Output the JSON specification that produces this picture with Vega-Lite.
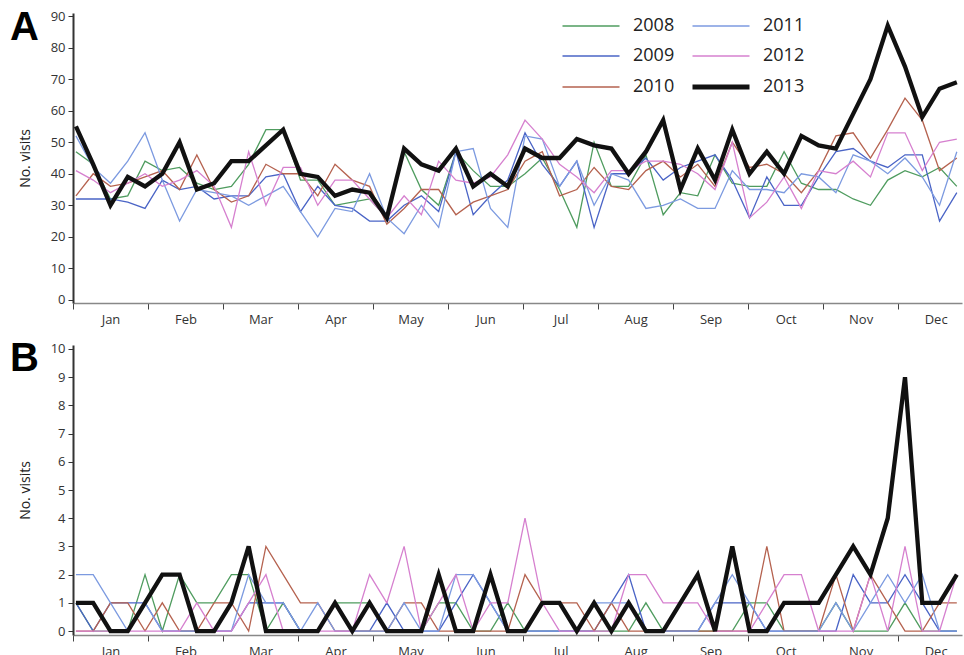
{
"$schema":"https://vega.github.io/schema/vega-lite/v6.json",
"background":"white",
"padding":{"left":10,"top":8,"right":0,"bottom":0},
"config":{"font":"Open Sans","view":{"stroke":null},
 "axis":{"labelFont":"Open Sans","labelFontSize":13,"labelColor":"#333","titleFont":"Open Sans","titleFontSize":14,"titleFontWeight":"normal","titleColor":"#222","grid":false,"tickColor":"#333","domainColor":"#444"},
 "axisX":{"labelOffset":37.5,"labelAlign":"center","labelOverlap":false,"labelFlush":false,"labelBound":false,"tickSize":6,"labelPadding":4,"domainColor":"#888","domainWidth":1.5,"tickColor":"#444","labelFontSize":13},
 "axisY":{"tickSize":5,"labelPadding":3,"titlePadding":18,"domainWidth":2,"domainColor":"#333","labelOverlap":false}},
"spacing":12,
"datasets":{
"a":[
{"yr":"2008","wk":1,"n":47},{"yr":"2008","wk":2,"n":43},{"yr":"2008","wk":3,"n":32},{"yr":"2008","wk":4,"n":33},{"yr":"2008","wk":5,"n":44},{"yr":"2008","wk":6,"n":41},{"yr":"2008","wk":7,"n":42},{"yr":"2008","wk":8,"n":37},{"yr":"2008","wk":9,"n":35},{"yr":"2008","wk":10,"n":36},{"yr":"2008","wk":11,"n":43},{"yr":"2008","wk":12,"n":54},{"yr":"2008","wk":13,"n":54},{"yr":"2008","wk":14,"n":38},{"yr":"2008","wk":15,"n":38},{"yr":"2008","wk":16,"n":30},{"yr":"2008","wk":17,"n":31},{"yr":"2008","wk":18,"n":32},{"yr":"2008","wk":19,"n":26},{"yr":"2008","wk":20,"n":47},{"yr":"2008","wk":21,"n":35},{"yr":"2008","wk":22,"n":30},{"yr":"2008","wk":23,"n":47},{"yr":"2008","wk":24,"n":41},{"yr":"2008","wk":25,"n":36},{"yr":"2008","wk":26,"n":36},{"yr":"2008","wk":27,"n":40},{"yr":"2008","wk":28,"n":45},{"yr":"2008","wk":29,"n":35},{"yr":"2008","wk":30,"n":23},{"yr":"2008","wk":31,"n":50},{"yr":"2008","wk":32,"n":36},{"yr":"2008","wk":33,"n":36},{"yr":"2008","wk":34,"n":46},{"yr":"2008","wk":35,"n":27},{"yr":"2008","wk":36,"n":34},{"yr":"2008","wk":37,"n":33},{"yr":"2008","wk":38,"n":46},{"yr":"2008","wk":39,"n":37},{"yr":"2008","wk":40,"n":36},{"yr":"2008","wk":41,"n":36},{"yr":"2008","wk":42,"n":47},{"yr":"2008","wk":43,"n":37},{"yr":"2008","wk":44,"n":35},{"yr":"2008","wk":45,"n":35},{"yr":"2008","wk":46,"n":32},{"yr":"2008","wk":47,"n":30},{"yr":"2008","wk":48,"n":38},{"yr":"2008","wk":49,"n":41},{"yr":"2008","wk":50,"n":39},{"yr":"2008","wk":51,"n":42},{"yr":"2008","wk":52,"n":36},
{"yr":"2009","wk":1,"n":32},{"yr":"2009","wk":2,"n":32},{"yr":"2009","wk":3,"n":32},{"yr":"2009","wk":4,"n":31},{"yr":"2009","wk":5,"n":29},{"yr":"2009","wk":6,"n":38},{"yr":"2009","wk":7,"n":35},{"yr":"2009","wk":8,"n":36},{"yr":"2009","wk":9,"n":32},{"yr":"2009","wk":10,"n":33},{"yr":"2009","wk":11,"n":33},{"yr":"2009","wk":12,"n":39},{"yr":"2009","wk":13,"n":40},{"yr":"2009","wk":14,"n":28},{"yr":"2009","wk":15,"n":36},{"yr":"2009","wk":16,"n":30},{"yr":"2009","wk":17,"n":29},{"yr":"2009","wk":18,"n":25},{"yr":"2009","wk":19,"n":25},{"yr":"2009","wk":20,"n":30},{"yr":"2009","wk":21,"n":33},{"yr":"2009","wk":22,"n":28},{"yr":"2009","wk":23,"n":47},{"yr":"2009","wk":24,"n":27},{"yr":"2009","wk":25,"n":33},{"yr":"2009","wk":26,"n":38},{"yr":"2009","wk":27,"n":53},{"yr":"2009","wk":28,"n":43},{"yr":"2009","wk":29,"n":36},{"yr":"2009","wk":30,"n":44},{"yr":"2009","wk":31,"n":23},{"yr":"2009","wk":32,"n":40},{"yr":"2009","wk":33,"n":40},{"yr":"2009","wk":34,"n":45},{"yr":"2009","wk":35,"n":38},{"yr":"2009","wk":36,"n":42},{"yr":"2009","wk":37,"n":44},{"yr":"2009","wk":38,"n":46},{"yr":"2009","wk":39,"n":38},{"yr":"2009","wk":40,"n":26},{"yr":"2009","wk":41,"n":39},{"yr":"2009","wk":42,"n":30},{"yr":"2009","wk":43,"n":30},{"yr":"2009","wk":44,"n":39},{"yr":"2009","wk":45,"n":47},{"yr":"2009","wk":46,"n":48},{"yr":"2009","wk":47,"n":44},{"yr":"2009","wk":48,"n":42},{"yr":"2009","wk":49,"n":46},{"yr":"2009","wk":50,"n":46},{"yr":"2009","wk":51,"n":25},{"yr":"2009","wk":52,"n":34},
{"yr":"2010","wk":1,"n":33},{"yr":"2010","wk":2,"n":40},{"yr":"2010","wk":3,"n":36},{"yr":"2010","wk":4,"n":37},{"yr":"2010","wk":5,"n":39},{"yr":"2010","wk":6,"n":41},{"yr":"2010","wk":7,"n":35},{"yr":"2010","wk":8,"n":46},{"yr":"2010","wk":9,"n":35},{"yr":"2010","wk":10,"n":31},{"yr":"2010","wk":11,"n":33},{"yr":"2010","wk":12,"n":43},{"yr":"2010","wk":13,"n":40},{"yr":"2010","wk":14,"n":40},{"yr":"2010","wk":15,"n":33},{"yr":"2010","wk":16,"n":43},{"yr":"2010","wk":17,"n":38},{"yr":"2010","wk":18,"n":36},{"yr":"2010","wk":19,"n":24},{"yr":"2010","wk":20,"n":29},{"yr":"2010","wk":21,"n":35},{"yr":"2010","wk":22,"n":35},{"yr":"2010","wk":23,"n":27},{"yr":"2010","wk":24,"n":31},{"yr":"2010","wk":25,"n":33},{"yr":"2010","wk":26,"n":35},{"yr":"2010","wk":27,"n":44},{"yr":"2010","wk":28,"n":47},{"yr":"2010","wk":29,"n":33},{"yr":"2010","wk":30,"n":35},{"yr":"2010","wk":31,"n":42},{"yr":"2010","wk":32,"n":36},{"yr":"2010","wk":33,"n":35},{"yr":"2010","wk":34,"n":41},{"yr":"2010","wk":35,"n":44},{"yr":"2010","wk":36,"n":39},{"yr":"2010","wk":37,"n":43},{"yr":"2010","wk":38,"n":36},{"yr":"2010","wk":39,"n":50},{"yr":"2010","wk":40,"n":42},{"yr":"2010","wk":41,"n":43},{"yr":"2010","wk":42,"n":40},{"yr":"2010","wk":43,"n":34},{"yr":"2010","wk":44,"n":41},{"yr":"2010","wk":45,"n":52},{"yr":"2010","wk":46,"n":53},{"yr":"2010","wk":47,"n":45},{"yr":"2010","wk":48,"n":54},{"yr":"2010","wk":49,"n":64},{"yr":"2010","wk":50,"n":57},{"yr":"2010","wk":51,"n":41},{"yr":"2010","wk":52,"n":45},
{"yr":"2011","wk":1,"n":52},{"yr":"2011","wk":2,"n":42},{"yr":"2011","wk":3,"n":37},{"yr":"2011","wk":4,"n":44},{"yr":"2011","wk":5,"n":53},{"yr":"2011","wk":6,"n":38},{"yr":"2011","wk":7,"n":25},{"yr":"2011","wk":8,"n":35},{"yr":"2011","wk":9,"n":34},{"yr":"2011","wk":10,"n":33},{"yr":"2011","wk":11,"n":30},{"yr":"2011","wk":12,"n":33},{"yr":"2011","wk":13,"n":36},{"yr":"2011","wk":14,"n":28},{"yr":"2011","wk":15,"n":20},{"yr":"2011","wk":16,"n":29},{"yr":"2011","wk":17,"n":28},{"yr":"2011","wk":18,"n":40},{"yr":"2011","wk":19,"n":26},{"yr":"2011","wk":20,"n":21},{"yr":"2011","wk":21,"n":30},{"yr":"2011","wk":22,"n":23},{"yr":"2011","wk":23,"n":47},{"yr":"2011","wk":24,"n":48},{"yr":"2011","wk":25,"n":29},{"yr":"2011","wk":26,"n":23},{"yr":"2011","wk":27,"n":52},{"yr":"2011","wk":28,"n":51},{"yr":"2011","wk":29,"n":36},{"yr":"2011","wk":30,"n":44},{"yr":"2011","wk":31,"n":30},{"yr":"2011","wk":32,"n":40},{"yr":"2011","wk":33,"n":38},{"yr":"2011","wk":34,"n":29},{"yr":"2011","wk":35,"n":30},{"yr":"2011","wk":36,"n":32},{"yr":"2011","wk":37,"n":29},{"yr":"2011","wk":38,"n":29},{"yr":"2011","wk":39,"n":41},{"yr":"2011","wk":40,"n":35},{"yr":"2011","wk":41,"n":35},{"yr":"2011","wk":42,"n":34},{"yr":"2011","wk":43,"n":40},{"yr":"2011","wk":44,"n":39},{"yr":"2011","wk":45,"n":34},{"yr":"2011","wk":46,"n":46},{"yr":"2011","wk":47,"n":44},{"yr":"2011","wk":48,"n":40},{"yr":"2011","wk":49,"n":45},{"yr":"2011","wk":50,"n":39},{"yr":"2011","wk":51,"n":30},{"yr":"2011","wk":52,"n":47},
{"yr":"2012","wk":1,"n":41},{"yr":"2012","wk":2,"n":38},{"yr":"2012","wk":3,"n":34},{"yr":"2012","wk":4,"n":37},{"yr":"2012","wk":5,"n":40},{"yr":"2012","wk":6,"n":36},{"yr":"2012","wk":7,"n":38},{"yr":"2012","wk":8,"n":41},{"yr":"2012","wk":9,"n":36},{"yr":"2012","wk":10,"n":23},{"yr":"2012","wk":11,"n":47},{"yr":"2012","wk":12,"n":30},{"yr":"2012","wk":13,"n":42},{"yr":"2012","wk":14,"n":42},{"yr":"2012","wk":15,"n":30},{"yr":"2012","wk":16,"n":38},{"yr":"2012","wk":17,"n":38},{"yr":"2012","wk":18,"n":32},{"yr":"2012","wk":19,"n":26},{"yr":"2012","wk":20,"n":33},{"yr":"2012","wk":21,"n":27},{"yr":"2012","wk":22,"n":44},{"yr":"2012","wk":23,"n":38},{"yr":"2012","wk":24,"n":37},{"yr":"2012","wk":25,"n":39},{"yr":"2012","wk":26,"n":46},{"yr":"2012","wk":27,"n":57},{"yr":"2012","wk":28,"n":51},{"yr":"2012","wk":29,"n":43},{"yr":"2012","wk":30,"n":39},{"yr":"2012","wk":31,"n":34},{"yr":"2012","wk":32,"n":41},{"yr":"2012","wk":33,"n":41},{"yr":"2012","wk":34,"n":44},{"yr":"2012","wk":35,"n":44},{"yr":"2012","wk":36,"n":43},{"yr":"2012","wk":37,"n":40},{"yr":"2012","wk":38,"n":35},{"yr":"2012","wk":39,"n":50},{"yr":"2012","wk":40,"n":26},{"yr":"2012","wk":41,"n":31},{"yr":"2012","wk":42,"n":39},{"yr":"2012","wk":43,"n":29},{"yr":"2012","wk":44,"n":41},{"yr":"2012","wk":45,"n":40},{"yr":"2012","wk":46,"n":44},{"yr":"2012","wk":47,"n":39},{"yr":"2012","wk":48,"n":53},{"yr":"2012","wk":49,"n":53},{"yr":"2012","wk":50,"n":41},{"yr":"2012","wk":51,"n":50},{"yr":"2012","wk":52,"n":51},
{"yr":"2013","wk":1,"n":55},{"yr":"2013","wk":2,"n":43},{"yr":"2013","wk":3,"n":30},{"yr":"2013","wk":4,"n":39},{"yr":"2013","wk":5,"n":36},{"yr":"2013","wk":6,"n":40},{"yr":"2013","wk":7,"n":50},{"yr":"2013","wk":8,"n":35},{"yr":"2013","wk":9,"n":37},{"yr":"2013","wk":10,"n":44},{"yr":"2013","wk":11,"n":44},{"yr":"2013","wk":12,"n":49},{"yr":"2013","wk":13,"n":54},{"yr":"2013","wk":14,"n":40},{"yr":"2013","wk":15,"n":39},{"yr":"2013","wk":16,"n":33},{"yr":"2013","wk":17,"n":35},{"yr":"2013","wk":18,"n":34},{"yr":"2013","wk":19,"n":26},{"yr":"2013","wk":20,"n":48},{"yr":"2013","wk":21,"n":43},{"yr":"2013","wk":22,"n":41},{"yr":"2013","wk":23,"n":48},{"yr":"2013","wk":24,"n":36},{"yr":"2013","wk":25,"n":40},{"yr":"2013","wk":26,"n":36},{"yr":"2013","wk":27,"n":48},{"yr":"2013","wk":28,"n":45},{"yr":"2013","wk":29,"n":45},{"yr":"2013","wk":30,"n":51},{"yr":"2013","wk":31,"n":49},{"yr":"2013","wk":32,"n":48},{"yr":"2013","wk":33,"n":40},{"yr":"2013","wk":34,"n":47},{"yr":"2013","wk":35,"n":57},{"yr":"2013","wk":36,"n":35},{"yr":"2013","wk":37,"n":48},{"yr":"2013","wk":38,"n":38},{"yr":"2013","wk":39,"n":54},{"yr":"2013","wk":40,"n":40},{"yr":"2013","wk":41,"n":47},{"yr":"2013","wk":42,"n":40},{"yr":"2013","wk":43,"n":52},{"yr":"2013","wk":44,"n":49},{"yr":"2013","wk":45,"n":48},{"yr":"2013","wk":46,"n":59},{"yr":"2013","wk":47,"n":70},{"yr":"2013","wk":48,"n":87},{"yr":"2013","wk":49,"n":74},{"yr":"2013","wk":50,"n":58},{"yr":"2013","wk":51,"n":67},{"yr":"2013","wk":52,"n":69}
],
"b":[
{"yr":"2008","wk":1,"n":1},{"yr":"2008","wk":2,"n":0},{"yr":"2008","wk":3,"n":0},{"yr":"2008","wk":4,"n":0},{"yr":"2008","wk":5,"n":2},{"yr":"2008","wk":6,"n":0},{"yr":"2008","wk":7,"n":2},{"yr":"2008","wk":8,"n":1},{"yr":"2008","wk":9,"n":1},{"yr":"2008","wk":10,"n":2},{"yr":"2008","wk":11,"n":2},{"yr":"2008","wk":12,"n":0},{"yr":"2008","wk":13,"n":1},{"yr":"2008","wk":14,"n":0},{"yr":"2008","wk":15,"n":0},{"yr":"2008","wk":16,"n":1},{"yr":"2008","wk":17,"n":1},{"yr":"2008","wk":18,"n":1},{"yr":"2008","wk":19,"n":0},{"yr":"2008","wk":20,"n":0},{"yr":"2008","wk":21,"n":0},{"yr":"2008","wk":22,"n":1},{"yr":"2008","wk":23,"n":1},{"yr":"2008","wk":24,"n":0},{"yr":"2008","wk":25,"n":0},{"yr":"2008","wk":26,"n":1},{"yr":"2008","wk":27,"n":0},{"yr":"2008","wk":28,"n":0},{"yr":"2008","wk":29,"n":0},{"yr":"2008","wk":30,"n":0},{"yr":"2008","wk":31,"n":0},{"yr":"2008","wk":32,"n":0},{"yr":"2008","wk":33,"n":0},{"yr":"2008","wk":34,"n":1},{"yr":"2008","wk":35,"n":0},{"yr":"2008","wk":36,"n":0},{"yr":"2008","wk":37,"n":0},{"yr":"2008","wk":38,"n":0},{"yr":"2008","wk":39,"n":0},{"yr":"2008","wk":40,"n":1},{"yr":"2008","wk":41,"n":1},{"yr":"2008","wk":42,"n":0},{"yr":"2008","wk":43,"n":0},{"yr":"2008","wk":44,"n":0},{"yr":"2008","wk":45,"n":1},{"yr":"2008","wk":46,"n":0},{"yr":"2008","wk":47,"n":0},{"yr":"2008","wk":48,"n":0},{"yr":"2008","wk":49,"n":1},{"yr":"2008","wk":50,"n":0},{"yr":"2008","wk":51,"n":0},{"yr":"2008","wk":52,"n":0},
{"yr":"2009","wk":1,"n":1},{"yr":"2009","wk":2,"n":0},{"yr":"2009","wk":3,"n":1},{"yr":"2009","wk":4,"n":1},{"yr":"2009","wk":5,"n":1},{"yr":"2009","wk":6,"n":0},{"yr":"2009","wk":7,"n":0},{"yr":"2009","wk":8,"n":0},{"yr":"2009","wk":9,"n":0},{"yr":"2009","wk":10,"n":0},{"yr":"2009","wk":11,"n":1},{"yr":"2009","wk":12,"n":1},{"yr":"2009","wk":13,"n":1},{"yr":"2009","wk":14,"n":0},{"yr":"2009","wk":15,"n":0},{"yr":"2009","wk":16,"n":1},{"yr":"2009","wk":17,"n":0},{"yr":"2009","wk":18,"n":0},{"yr":"2009","wk":19,"n":1},{"yr":"2009","wk":20,"n":0},{"yr":"2009","wk":21,"n":0},{"yr":"2009","wk":22,"n":0},{"yr":"2009","wk":23,"n":1},{"yr":"2009","wk":24,"n":2},{"yr":"2009","wk":25,"n":1},{"yr":"2009","wk":26,"n":0},{"yr":"2009","wk":27,"n":0},{"yr":"2009","wk":28,"n":0},{"yr":"2009","wk":29,"n":0},{"yr":"2009","wk":30,"n":0},{"yr":"2009","wk":31,"n":0},{"yr":"2009","wk":32,"n":1},{"yr":"2009","wk":33,"n":2},{"yr":"2009","wk":34,"n":0},{"yr":"2009","wk":35,"n":0},{"yr":"2009","wk":36,"n":0},{"yr":"2009","wk":37,"n":0},{"yr":"2009","wk":38,"n":1},{"yr":"2009","wk":39,"n":1},{"yr":"2009","wk":40,"n":1},{"yr":"2009","wk":41,"n":0},{"yr":"2009","wk":42,"n":0},{"yr":"2009","wk":43,"n":0},{"yr":"2009","wk":44,"n":0},{"yr":"2009","wk":45,"n":0},{"yr":"2009","wk":46,"n":2},{"yr":"2009","wk":47,"n":1},{"yr":"2009","wk":48,"n":1},{"yr":"2009","wk":49,"n":2},{"yr":"2009","wk":50,"n":1},{"yr":"2009","wk":51,"n":0},{"yr":"2009","wk":52,"n":0},
{"yr":"2010","wk":1,"n":0},{"yr":"2010","wk":2,"n":0},{"yr":"2010","wk":3,"n":1},{"yr":"2010","wk":4,"n":1},{"yr":"2010","wk":5,"n":0},{"yr":"2010","wk":6,"n":1},{"yr":"2010","wk":7,"n":0},{"yr":"2010","wk":8,"n":0},{"yr":"2010","wk":9,"n":1},{"yr":"2010","wk":10,"n":1},{"yr":"2010","wk":11,"n":0},{"yr":"2010","wk":12,"n":3},{"yr":"2010","wk":13,"n":2},{"yr":"2010","wk":14,"n":1},{"yr":"2010","wk":15,"n":1},{"yr":"2010","wk":16,"n":0},{"yr":"2010","wk":17,"n":0},{"yr":"2010","wk":18,"n":0},{"yr":"2010","wk":19,"n":0},{"yr":"2010","wk":20,"n":1},{"yr":"2010","wk":21,"n":1},{"yr":"2010","wk":22,"n":0},{"yr":"2010","wk":23,"n":0},{"yr":"2010","wk":24,"n":0},{"yr":"2010","wk":25,"n":0},{"yr":"2010","wk":26,"n":0},{"yr":"2010","wk":27,"n":2},{"yr":"2010","wk":28,"n":1},{"yr":"2010","wk":29,"n":1},{"yr":"2010","wk":30,"n":1},{"yr":"2010","wk":31,"n":0},{"yr":"2010","wk":32,"n":1},{"yr":"2010","wk":33,"n":0},{"yr":"2010","wk":34,"n":0},{"yr":"2010","wk":35,"n":0},{"yr":"2010","wk":36,"n":0},{"yr":"2010","wk":37,"n":0},{"yr":"2010","wk":38,"n":0},{"yr":"2010","wk":39,"n":0},{"yr":"2010","wk":40,"n":0},{"yr":"2010","wk":41,"n":3},{"yr":"2010","wk":42,"n":0},{"yr":"2010","wk":43,"n":0},{"yr":"2010","wk":44,"n":0},{"yr":"2010","wk":45,"n":2},{"yr":"2010","wk":46,"n":0},{"yr":"2010","wk":47,"n":2},{"yr":"2010","wk":48,"n":1},{"yr":"2010","wk":49,"n":0},{"yr":"2010","wk":50,"n":0},{"yr":"2010","wk":51,"n":1},{"yr":"2010","wk":52,"n":1},
{"yr":"2011","wk":1,"n":2},{"yr":"2011","wk":2,"n":2},{"yr":"2011","wk":3,"n":1},{"yr":"2011","wk":4,"n":0},{"yr":"2011","wk":5,"n":1},{"yr":"2011","wk":6,"n":0},{"yr":"2011","wk":7,"n":0},{"yr":"2011","wk":8,"n":0},{"yr":"2011","wk":9,"n":0},{"yr":"2011","wk":10,"n":0},{"yr":"2011","wk":11,"n":2},{"yr":"2011","wk":12,"n":1},{"yr":"2011","wk":13,"n":1},{"yr":"2011","wk":14,"n":0},{"yr":"2011","wk":15,"n":1},{"yr":"2011","wk":16,"n":0},{"yr":"2011","wk":17,"n":0},{"yr":"2011","wk":18,"n":0},{"yr":"2011","wk":19,"n":0},{"yr":"2011","wk":20,"n":1},{"yr":"2011","wk":21,"n":0},{"yr":"2011","wk":22,"n":0},{"yr":"2011","wk":23,"n":2},{"yr":"2011","wk":24,"n":2},{"yr":"2011","wk":25,"n":1},{"yr":"2011","wk":26,"n":0},{"yr":"2011","wk":27,"n":0},{"yr":"2011","wk":28,"n":0},{"yr":"2011","wk":29,"n":0},{"yr":"2011","wk":30,"n":0},{"yr":"2011","wk":31,"n":1},{"yr":"2011","wk":32,"n":1},{"yr":"2011","wk":33,"n":1},{"yr":"2011","wk":34,"n":0},{"yr":"2011","wk":35,"n":0},{"yr":"2011","wk":36,"n":0},{"yr":"2011","wk":37,"n":0},{"yr":"2011","wk":38,"n":1},{"yr":"2011","wk":39,"n":2},{"yr":"2011","wk":40,"n":1},{"yr":"2011","wk":41,"n":0},{"yr":"2011","wk":42,"n":0},{"yr":"2011","wk":43,"n":0},{"yr":"2011","wk":44,"n":0},{"yr":"2011","wk":45,"n":1},{"yr":"2011","wk":46,"n":0},{"yr":"2011","wk":47,"n":1},{"yr":"2011","wk":48,"n":2},{"yr":"2011","wk":49,"n":1},{"yr":"2011","wk":50,"n":2},{"yr":"2011","wk":51,"n":0},{"yr":"2011","wk":52,"n":0},
{"yr":"2012","wk":1,"n":0},{"yr":"2012","wk":2,"n":0},{"yr":"2012","wk":3,"n":0},{"yr":"2012","wk":4,"n":0},{"yr":"2012","wk":5,"n":0},{"yr":"2012","wk":6,"n":0},{"yr":"2012","wk":7,"n":0},{"yr":"2012","wk":8,"n":1},{"yr":"2012","wk":9,"n":0},{"yr":"2012","wk":10,"n":0},{"yr":"2012","wk":11,"n":1},{"yr":"2012","wk":12,"n":2},{"yr":"2012","wk":13,"n":0},{"yr":"2012","wk":14,"n":0},{"yr":"2012","wk":15,"n":0},{"yr":"2012","wk":16,"n":0},{"yr":"2012","wk":17,"n":0},{"yr":"2012","wk":18,"n":2},{"yr":"2012","wk":19,"n":1},{"yr":"2012","wk":20,"n":3},{"yr":"2012","wk":21,"n":0},{"yr":"2012","wk":22,"n":1},{"yr":"2012","wk":23,"n":2},{"yr":"2012","wk":24,"n":0},{"yr":"2012","wk":25,"n":1},{"yr":"2012","wk":26,"n":1},{"yr":"2012","wk":27,"n":4},{"yr":"2012","wk":28,"n":1},{"yr":"2012","wk":29,"n":0},{"yr":"2012","wk":30,"n":0},{"yr":"2012","wk":31,"n":0},{"yr":"2012","wk":32,"n":0},{"yr":"2012","wk":33,"n":2},{"yr":"2012","wk":34,"n":2},{"yr":"2012","wk":35,"n":1},{"yr":"2012","wk":36,"n":1},{"yr":"2012","wk":37,"n":1},{"yr":"2012","wk":38,"n":0},{"yr":"2012","wk":39,"n":0},{"yr":"2012","wk":40,"n":0},{"yr":"2012","wk":41,"n":1},{"yr":"2012","wk":42,"n":2},{"yr":"2012","wk":43,"n":2},{"yr":"2012","wk":44,"n":0},{"yr":"2012","wk":45,"n":0},{"yr":"2012","wk":46,"n":0},{"yr":"2012","wk":47,"n":2},{"yr":"2012","wk":48,"n":0},{"yr":"2012","wk":49,"n":3},{"yr":"2012","wk":50,"n":0},{"yr":"2012","wk":51,"n":0},{"yr":"2012","wk":52,"n":2},
{"yr":"2013","wk":1,"n":1},{"yr":"2013","wk":2,"n":1},{"yr":"2013","wk":3,"n":0},{"yr":"2013","wk":4,"n":0},{"yr":"2013","wk":5,"n":1},{"yr":"2013","wk":6,"n":2},{"yr":"2013","wk":7,"n":2},{"yr":"2013","wk":8,"n":0},{"yr":"2013","wk":9,"n":0},{"yr":"2013","wk":10,"n":1},{"yr":"2013","wk":11,"n":3},{"yr":"2013","wk":12,"n":0},{"yr":"2013","wk":13,"n":0},{"yr":"2013","wk":14,"n":0},{"yr":"2013","wk":15,"n":0},{"yr":"2013","wk":16,"n":1},{"yr":"2013","wk":17,"n":0},{"yr":"2013","wk":18,"n":1},{"yr":"2013","wk":19,"n":0},{"yr":"2013","wk":20,"n":0},{"yr":"2013","wk":21,"n":0},{"yr":"2013","wk":22,"n":2},{"yr":"2013","wk":23,"n":0},{"yr":"2013","wk":24,"n":0},{"yr":"2013","wk":25,"n":2},{"yr":"2013","wk":26,"n":0},{"yr":"2013","wk":27,"n":0},{"yr":"2013","wk":28,"n":1},{"yr":"2013","wk":29,"n":1},{"yr":"2013","wk":30,"n":0},{"yr":"2013","wk":31,"n":1},{"yr":"2013","wk":32,"n":0},{"yr":"2013","wk":33,"n":1},{"yr":"2013","wk":34,"n":0},{"yr":"2013","wk":35,"n":0},{"yr":"2013","wk":36,"n":1},{"yr":"2013","wk":37,"n":2},{"yr":"2013","wk":38,"n":0},{"yr":"2013","wk":39,"n":3},{"yr":"2013","wk":40,"n":0},{"yr":"2013","wk":41,"n":0},{"yr":"2013","wk":42,"n":1},{"yr":"2013","wk":43,"n":1},{"yr":"2013","wk":44,"n":1},{"yr":"2013","wk":45,"n":2},{"yr":"2013","wk":46,"n":3},{"yr":"2013","wk":47,"n":2},{"yr":"2013","wk":48,"n":4},{"yr":"2013","wk":49,"n":9},{"yr":"2013","wk":50,"n":1},{"yr":"2013","wk":51,"n":1},{"yr":"2013","wk":52,"n":2}
],
"labA":[{"lab":"A"}],
"labB":[{"lab":"B"}]
},
"vconcat":[
{
 "width":889,"height":290,
 "layer":[
  {"data":{"name":"a"},"transform":[{"filter":"datum.yr != '2013'"}],"mark":{"type":"line","strokeWidth":1.3},
   "encoding":{
    "x":{"field":"wk","type":"quantitative","scale":{"domain":[0.83,52.3],"nice":false,"zero":false},"axis":{"title":null,"values":[0.83,5.173,9.516,13.859,18.202,22.545,26.888,31.231,35.574,39.917,44.26,48.603],"labelExpr":"['Jan','Feb','Mar','Apr','May','Jun','Jul','Aug','Sep','Oct','Nov','Dec'][round((datum.value-0.83)/4.343)]"}},
    "y":{"field":"n","type":"quantitative","scale":{"domain":[-1,91],"nice":false,"zero":false},"axis":{"title":"No. visits","values":[0,10,20,30,40,50,60,70,80,90]}},
    "color":{"field":"yr","type":"nominal","title":null,
     "scale":{"domain":["2008","2009","2010","2011","2012","2013"],"range":["#4f9c5f","#4a64c6","#b5624f","#7c9ae0","#d680cf","#111111"]},
     "legend":{"orient":"none","legendX":509,"legendY":4,"columns":2,"direction":"vertical","symbolType":"stroke","symbolSize":3249,"symbolStrokeWidth":1.5,"rowPadding":12,"columnPadding":7,"labelOffset":33,"labelFontSize":18,"labelColor":"#222","labelFont":"Open Sans",
      "encode":{"symbols":{"update":{"strokeWidth":{"signal":"datum.value == '2013' ? 5 : 1.5"}}}}}}
   }},
  {"data":{"name":"a"},"transform":[{"filter":"datum.yr == '2013'"}],"mark":{"type":"line","strokeWidth":4.3},
   "encoding":{"x":{"field":"wk","type":"quantitative","scale":{"domain":[0.83,52.3],"nice":false,"zero":false},"axis":{"title":null,"values":[0.83,5.173,9.516,13.859,18.202,22.545,26.888,31.231,35.574,39.917,44.26,48.603],"labelExpr":"['Jan','Feb','Mar','Apr','May','Jun','Jul','Aug','Sep','Oct','Nov','Dec'][round((datum.value-0.83)/4.343)]"}},"y":{"field":"n","type":"quantitative","scale":{"domain":[-1,91],"nice":false,"zero":false},"axis":{"title":"No. visits","values":[0,10,20,30,40,50,60,70,80,90]}},"color":{"field":"yr","type":"nominal","title":null}}},
  {"data":{"name":"labA"},"mark":{"type":"text","font":"Liberation Sans","fontSize":40,"fontWeight":"bold","align":"left","baseline":"alphabetic","dx":-63,"dy":24,"fill":"#000"},
   "encoding":{"x":{"datum":0.83,"type":"quantitative","scale":{"domain":[0.83,52.3],"nice":false,"zero":false},"axis":{"title":null,"values":[0.83,5.173,9.516,13.859,18.202,22.545,26.888,31.231,35.574,39.917,44.26,48.603],"labelExpr":"['Jan','Feb','Mar','Apr','May','Jun','Jul','Aug','Sep','Oct','Nov','Dec'][round((datum.value-0.83)/4.343)]"}},"y":{"datum":90,"type":"quantitative","scale":{"domain":[-1,91],"nice":false,"zero":false},"axis":{"title":"No. visits","values":[0,10,20,30,40,50,60,70,80,90]}},"text":{"field":"lab","type":"nominal"}}}
 ]
},
{
 "width":889,"height":290,
 "layer":[
  {"data":{"name":"b"},"transform":[{"filter":"datum.yr != '2013'"}],"mark":{"type":"line","strokeWidth":1.3},
   "encoding":{
    "x":{"field":"wk","type":"quantitative","scale":{"domain":[0.83,52.3],"nice":false,"zero":false},"axis":{"title":null,"values":[0.83,5.173,9.516,13.859,18.202,22.545,26.888,31.231,35.574,39.917,44.26,48.603],"labelExpr":"['Jan','Feb','Mar','Apr','May','Jun','Jul','Aug','Sep','Oct','Nov','Dec'][round((datum.value-0.83)/4.343)]"}},
    "y":{"field":"n","type":"quantitative","scale":{"domain":[-0.14,10.14],"nice":false,"zero":false},"axis":{"title":"No. visits","values":[0,1,2,3,4,5,6,7,8,9,10]}},
    "color":{"field":"yr","type":"nominal","title":null}
   }},
  {"data":{"name":"b"},"transform":[{"filter":"datum.yr == '2013'"}],"mark":{"type":"line","strokeWidth":4.3},
   "encoding":{"x":{"field":"wk","type":"quantitative","scale":{"domain":[0.83,52.3],"nice":false,"zero":false},"axis":{"title":null,"values":[0.83,5.173,9.516,13.859,18.202,22.545,26.888,31.231,35.574,39.917,44.26,48.603],"labelExpr":"['Jan','Feb','Mar','Apr','May','Jun','Jul','Aug','Sep','Oct','Nov','Dec'][round((datum.value-0.83)/4.343)]"}},"y":{"field":"n","type":"quantitative","scale":{"domain":[-0.14,10.14],"nice":false,"zero":false},"axis":{"title":"No. visits","values":[0,1,2,3,4,5,6,7,8,9,10]}},"color":{"field":"yr","type":"nominal","title":null}}},
  {"data":{"name":"labB"},"mark":{"type":"text","font":"Liberation Sans","fontSize":40,"fontWeight":"bold","align":"left","baseline":"alphabetic","dx":-63,"dy":22,"fill":"#000"},
   "encoding":{"x":{"datum":0.83,"type":"quantitative","scale":{"domain":[0.83,52.3],"nice":false,"zero":false},"axis":{"title":null,"values":[0.83,5.173,9.516,13.859,18.202,22.545,26.888,31.231,35.574,39.917,44.26,48.603],"labelExpr":"['Jan','Feb','Mar','Apr','May','Jun','Jul','Aug','Sep','Oct','Nov','Dec'][round((datum.value-0.83)/4.343)]"}},"y":{"datum":10,"type":"quantitative","scale":{"domain":[-0.14,10.14],"nice":false,"zero":false},"axis":{"title":"No. visits","values":[0,1,2,3,4,5,6,7,8,9,10]}},"text":{"field":"lab","type":"nominal"}}}
 ]
}
]
}
